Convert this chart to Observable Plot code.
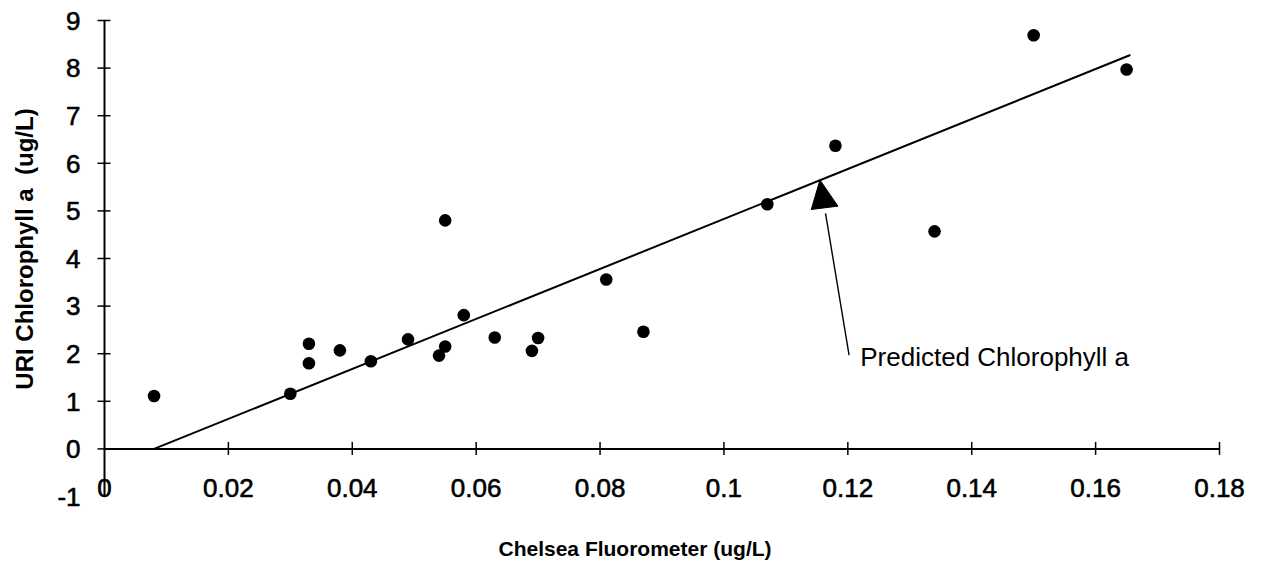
<!DOCTYPE html>
<html>
<head>
<meta charset="utf-8">
<script src="https://cdn.jsdelivr.net/npm/d3@7"></script>
<script src="https://cdn.jsdelivr.net/npm/@observablehq/plot@0.6"></script>
<style>
  html, body { margin: 0; padding: 0; background: #fff; }
  #chart svg { display: block; }
  g[aria-label="x-tick-labels"] text { letter-spacing: 1.5px; }
  g[aria-label="annotation-label"] text { letter-spacing: 1.2px; }
  g[aria-label="y-title"] text { white-space: pre; }
</style>
</head>
<body>
<div id="chart"></div>
<script>
// ---- data ----
const chelsea = [0.008, 0.030, 0.033, 0.033, 0.038, 0.043, 0.049, 0.054, 0.055, 0.055, 0.058,
                 0.063, 0.069, 0.070, 0.081, 0.087, 0.107, 0.118, 0.134, 0.150, 0.165];
const uri     = [1.11, 1.16, 2.21, 1.80, 2.07, 1.84, 2.30, 1.96, 2.15, 4.80, 2.81,
                 2.34, 2.06, 2.33, 3.56, 2.46, 5.14, 6.37, 4.57, 8.69, 7.97];

// predicted (regression) line end points
const fitX = [0.008, 0.1655];
const fitY = [0, 8.27];

// axis ticks and labels
const xTicks = [0, 0.02, 0.04, 0.06, 0.08, 0.1, 0.12, 0.14, 0.16, 0.18];
const xTickLabels = ["0", "0.02", "0.04", "0.06", "0.08", "0.1", "0.12", "0.14", "0.16", "0.18"];
const yTicks = [-1, 0, 1, 2, 3, 4, 5, 6, 7, 8, 9];
const yTickLabels = ["-1", "0", "1", "2", "3", "4", "5", "6", "7", "8", "9"];

// titles and annotation
const xTitle = "Chelsea Fluorometer (ug/L)";
const yTitle = "URI Chlorophyll a  (ug/L)";
const annoLabel = "Predicted Chlorophyll a";
const annoX = 0.122, annoY = 1.92;
const arrowShaftX = [0.1164, 0.1202];
const arrowShaftY = [4.95, 1.97];
const arrowHeadX = [0.1155, 0.1141, 0.1184, 0.1155];
const arrowHeadY = [5.65, 5.03, 5.10, 5.65];

// ---- tables built from the arrays ----
const points = chelsea.map((x, i) => ({x, y: uri[i]}));
const fit = fitX.map((x, i) => ({x, y: fitY[i]}));
const head = arrowHeadX.map((x, i) => ({x, y: arrowHeadY[i]}));
const xTickRows = xTicks.map((v, i) => ({v, label: xTickLabels[i]}));
const yTickRows = yTicks.map((v, i) => ({v, label: yTickLabels[i]}));

const ink = "#000";
const chart = Plot.plot({
  width: 1262,
  height: 575,
  marginLeft: 104,
  marginRight: 43,
  marginTop: 20,
  marginBottom: 79,
  x: {domain: [0, 0.18], axis: null},
  y: {domain: [-1, 9], axis: null},
  style: {fontFamily: "'Liberation Sans', Arial, sans-serif", background: "#fff", color: ink},
  marks: [
    // axes lines
    Plot.ruleY([0], {x1: 0, x2: xTicks[xTicks.length - 1], stroke: ink, strokeWidth: 2}),
    Plot.ruleX([0], {y1: yTicks[0], y2: yTicks[yTicks.length - 1], stroke: ink, strokeWidth: 2}),
    // crossing tick marks
    Plot.ruleX(xTicks.slice(1), {x: d => d, y1: 0, y2: 0, insetTop: -6.5, insetBottom: -6.5, stroke: ink, strokeWidth: 1.5}),
    Plot.ruleY(yTicks.slice(1), {y: d => d, x1: 0, x2: 0, insetLeft: -6.5, insetRight: -6.5, stroke: ink, strokeWidth: 1.5}),
    // tick labels
    Plot.text(xTickRows, {x: "v", y: 0, text: "label", dy: 40, fontSize: 26, fill: ink,
      stroke: ink, strokeWidth: 0.6, ariaLabel: "x-tick-labels"}),
    Plot.text(yTickRows, {x: 0, y: "v", text: "label", dx: -24, dy: 1, textAnchor: "end", fontSize: 26, fill: ink,
      stroke: ink, strokeWidth: 0.6}),
    // axis titles
    Plot.text([xTitle], {frameAnchor: "bottom-left", text: d => d, dx: 394, dy: 59, textAnchor: "start",
      fontSize: 21, fontWeight: "bold", fill: ink}),
    Plot.text([yTitle], {frameAnchor: "left", text: d => d, dx: -79, dy: -9.5, rotate: -90, textAnchor: "middle",
      fontSize: 24, fontWeight: "bold", fill: ink, ariaLabel: "y-title"}),
    // predicted line
    Plot.line(fit, {x: "x", y: "y", stroke: ink, strokeWidth: 2}),
    // observations
    Plot.dot(points, {x: "x", y: "y", r: 6.3, fill: ink, stroke: "none"}),
    // annotation arrow
    Plot.link([0], {x1: arrowShaftX[0], y1: arrowShaftY[0], x2: arrowShaftX[1], y2: arrowShaftY[1], stroke: ink, strokeWidth: 1.4}),
    Plot.line(head, {x: "x", y: "y", fill: ink, stroke: ink, strokeWidth: 1}),
    Plot.text([annoLabel], {x: annoX, y: annoY, text: d => d, textAnchor: "start", fontSize: 26, fill: ink,
      ariaLabel: "annotation-label"})
  ]
});
document.getElementById("chart").appendChild(chart);
</script>
</body>
</html>
